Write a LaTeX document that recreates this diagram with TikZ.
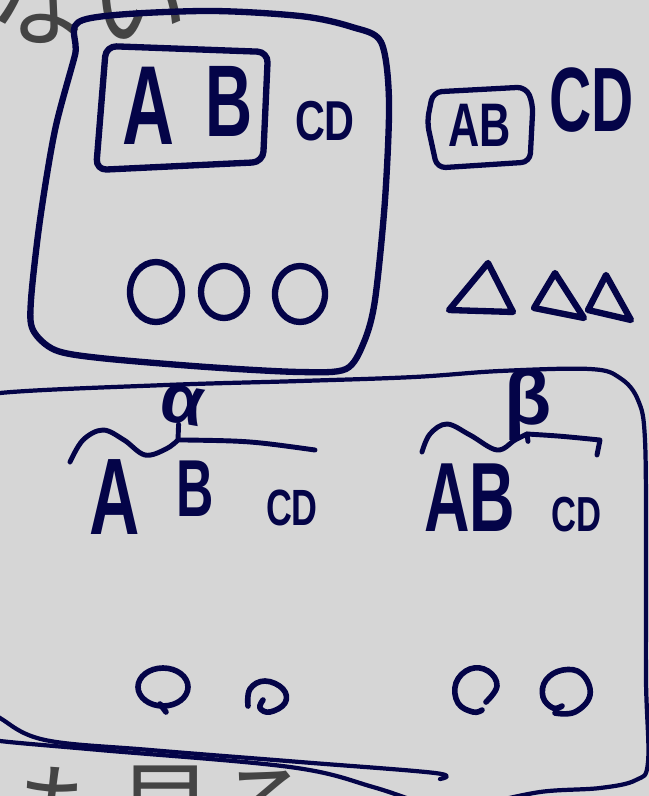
\documentclass[tikz,border=0pt]{standalone}
\usepackage{fontspec}
\setmainfont{Liberation Sans}
\newfontfamily\jpfont{Noto Sans CJK JP}
\definecolor{ink}{RGB}{4,4,72}
\definecolor{paper}{RGB}{214,214,214}
\definecolor{pencil}{RGB}{68,68,68}
\tikzset{
	hand/.style={draw=ink, line width=3.6pt, line cap=round, line join=round},
	thinhand/.style={hand, line width=2.4pt},
	letter/.style={text=ink, inner sep=0pt, font=\bfseries\fontsize{#1}{#1}\selectfont, xscale=0.64, transform shape},
	note/.style={text=pencil, inner sep=0pt, anchor=base west, font=\jpfont\fontsize{57}{60}\selectfont},
}

\begin{document}
\begin{tikzpicture}[x=0.02cm, y=-0.02cm]
	\fill[paper] (0,0) rectangle (649,796);
	\useasboundingbox (0,0) rectangle (649,796);
	\clip (0,0) rectangle (649,796);
	\node[note] (top) at (-12,38) {ない};
	\node[note] (bottom) at (15,846) {も見る};
	% first box
	\draw[hand] plot[smooth cycle, tension=0.5] coordinates {(83,20) (200,11) (300,16) (352,27) (381,42) (389,100) (385,200) (375,300) (364,342) (346,369) (300,372) (207,367) (100,358) (55,350) (33,330) (31,300) (40,220) (55,130) (75,55)};
	\draw[hand, rounded corners=6] (106,46) -- (268,52) -- (263,162) -- (96,170) -- cycle;
	\node[letter=64] (A1) at (148,106) {A};
	\node[letter=58] (B1) at (229,101) {B};
	\node[letter=32, xscale=1.15] (CD1) at (325,121) {CD};
	\foreach \x/\y/\rx/\ry in {156/292/26/30, 224/292/23/26, 300/294/25/28}
		\draw[hand] (\x,\y) ellipse [x radius=\rx, y radius=\ry];
	% second group
	\draw[hand, line width=3pt, rounded corners=5] (433,92) -- (526,87) -- (533,104) -- (530,162) -- (437,168) -- (427,122) -- cycle;
	\node[letter=35, xscale=1.1] (AB2) at (480,125) {AB};
	\node[letter=52] (CD2) at (592,100) {CD};
	\draw[hand] (488,263) -- (449,310) -- (513,312) -- cycle;
	\draw[hand] (555,273) -- (534,308) -- (584,318) -- cycle;
	\draw[hand] (606,275) -- (588,310) -- (631,320) -- cycle;
	% lower box
	\draw[thinhand] plot[smooth, tension=0.6] coordinates {(-30,405) (0,393) (166,385) (300,381) (414,377) (500,371) (590,369) (620,378) (638,400) (645,440) (646,560) (646,680) (648,762) (636,780) (600,788) (540,792) (480,805)};
	\draw[thinhand] plot[smooth, tension=0.6] coordinates {(-20,702) (0,718) (45,740) (150,750) (300,762) (435,773) (440,779)};
	\draw[thinhand] plot[smooth, tension=0.6] coordinates {(-20,736) (0,741) (100,750) (290,767) (373,787) (425,805)};
	\node[text=ink, inner sep=0pt, font=\bfseries\fontsize{40}{40}\selectfont, rotate=-10] (al) at (182,405) {α};
	\coordinate (w1) at (178,440);
	\draw[hand, line width=2.8pt] plot[smooth, tension=0.6] coordinates {(70,462) (83,440) (103,430) (124,440) (145,455) (166,449) (178,440)} -- (186,440) .. controls (250,441) .. (315,450);
	\draw[hand, line width=2.8pt] (al.south) -- (w1);
	\node[letter=62] (A3) at (115,497) {A};
	\node[letter=46] (B3) at (195,489) {B};
	\node[letter=29, xscale=1.1] (CD3) at (292,508) {CD};
	\node[text=ink, inner sep=0pt, font=\bfseries\fontsize{44}{44}\selectfont] (be) at (528,405) {β};
	\coordinate (w2) at (527,434);
	\draw[hand, line width=2.8pt] plot[smooth, tension=0.6] coordinates {(422,452) (430,434) (447,424) (470,435) (497,450) (515,440) (527,434)} .. controls (560,436) .. (600,440) -- (597,455);
	\draw[hand, line width=2.8pt] (be.south) -- (w2);
	\node[letter=56] (AB4) at (470,498) {AB};
	\node[letter=28, xscale=1.1] (CD4) at (577,515) {CD};
	%	\draw[help lines] (0,0) grid[step=50] (649,796);
	\draw[hand, line width=3.2pt] (163,687) ellipse [x radius=25, y radius=19];
	\draw[hand, line width=3.2pt] (160,704) -- (166,712);
	\draw[hand, line width=3.2pt] plot[smooth, tension=0.7] coordinates {(248,706) (250,689) (265,681) (283,689) (285,703) (270,712) (260,708) (263,700)};
	\draw[hand, line width=3.2pt] plot[smooth, tension=0.7] coordinates {(486,702) (497,686) (488,671) (470,669) (456,683) (458,703) (473,712) (482,710)};
	\draw[hand, line width=3.2pt] plot[smooth, tension=0.7] coordinates {(555,713) (575,712) (590,695) (582,674) (563,670) (546,680) (543,697) (553,708) (562,706)};
\end{tikzpicture}
\end{document}
